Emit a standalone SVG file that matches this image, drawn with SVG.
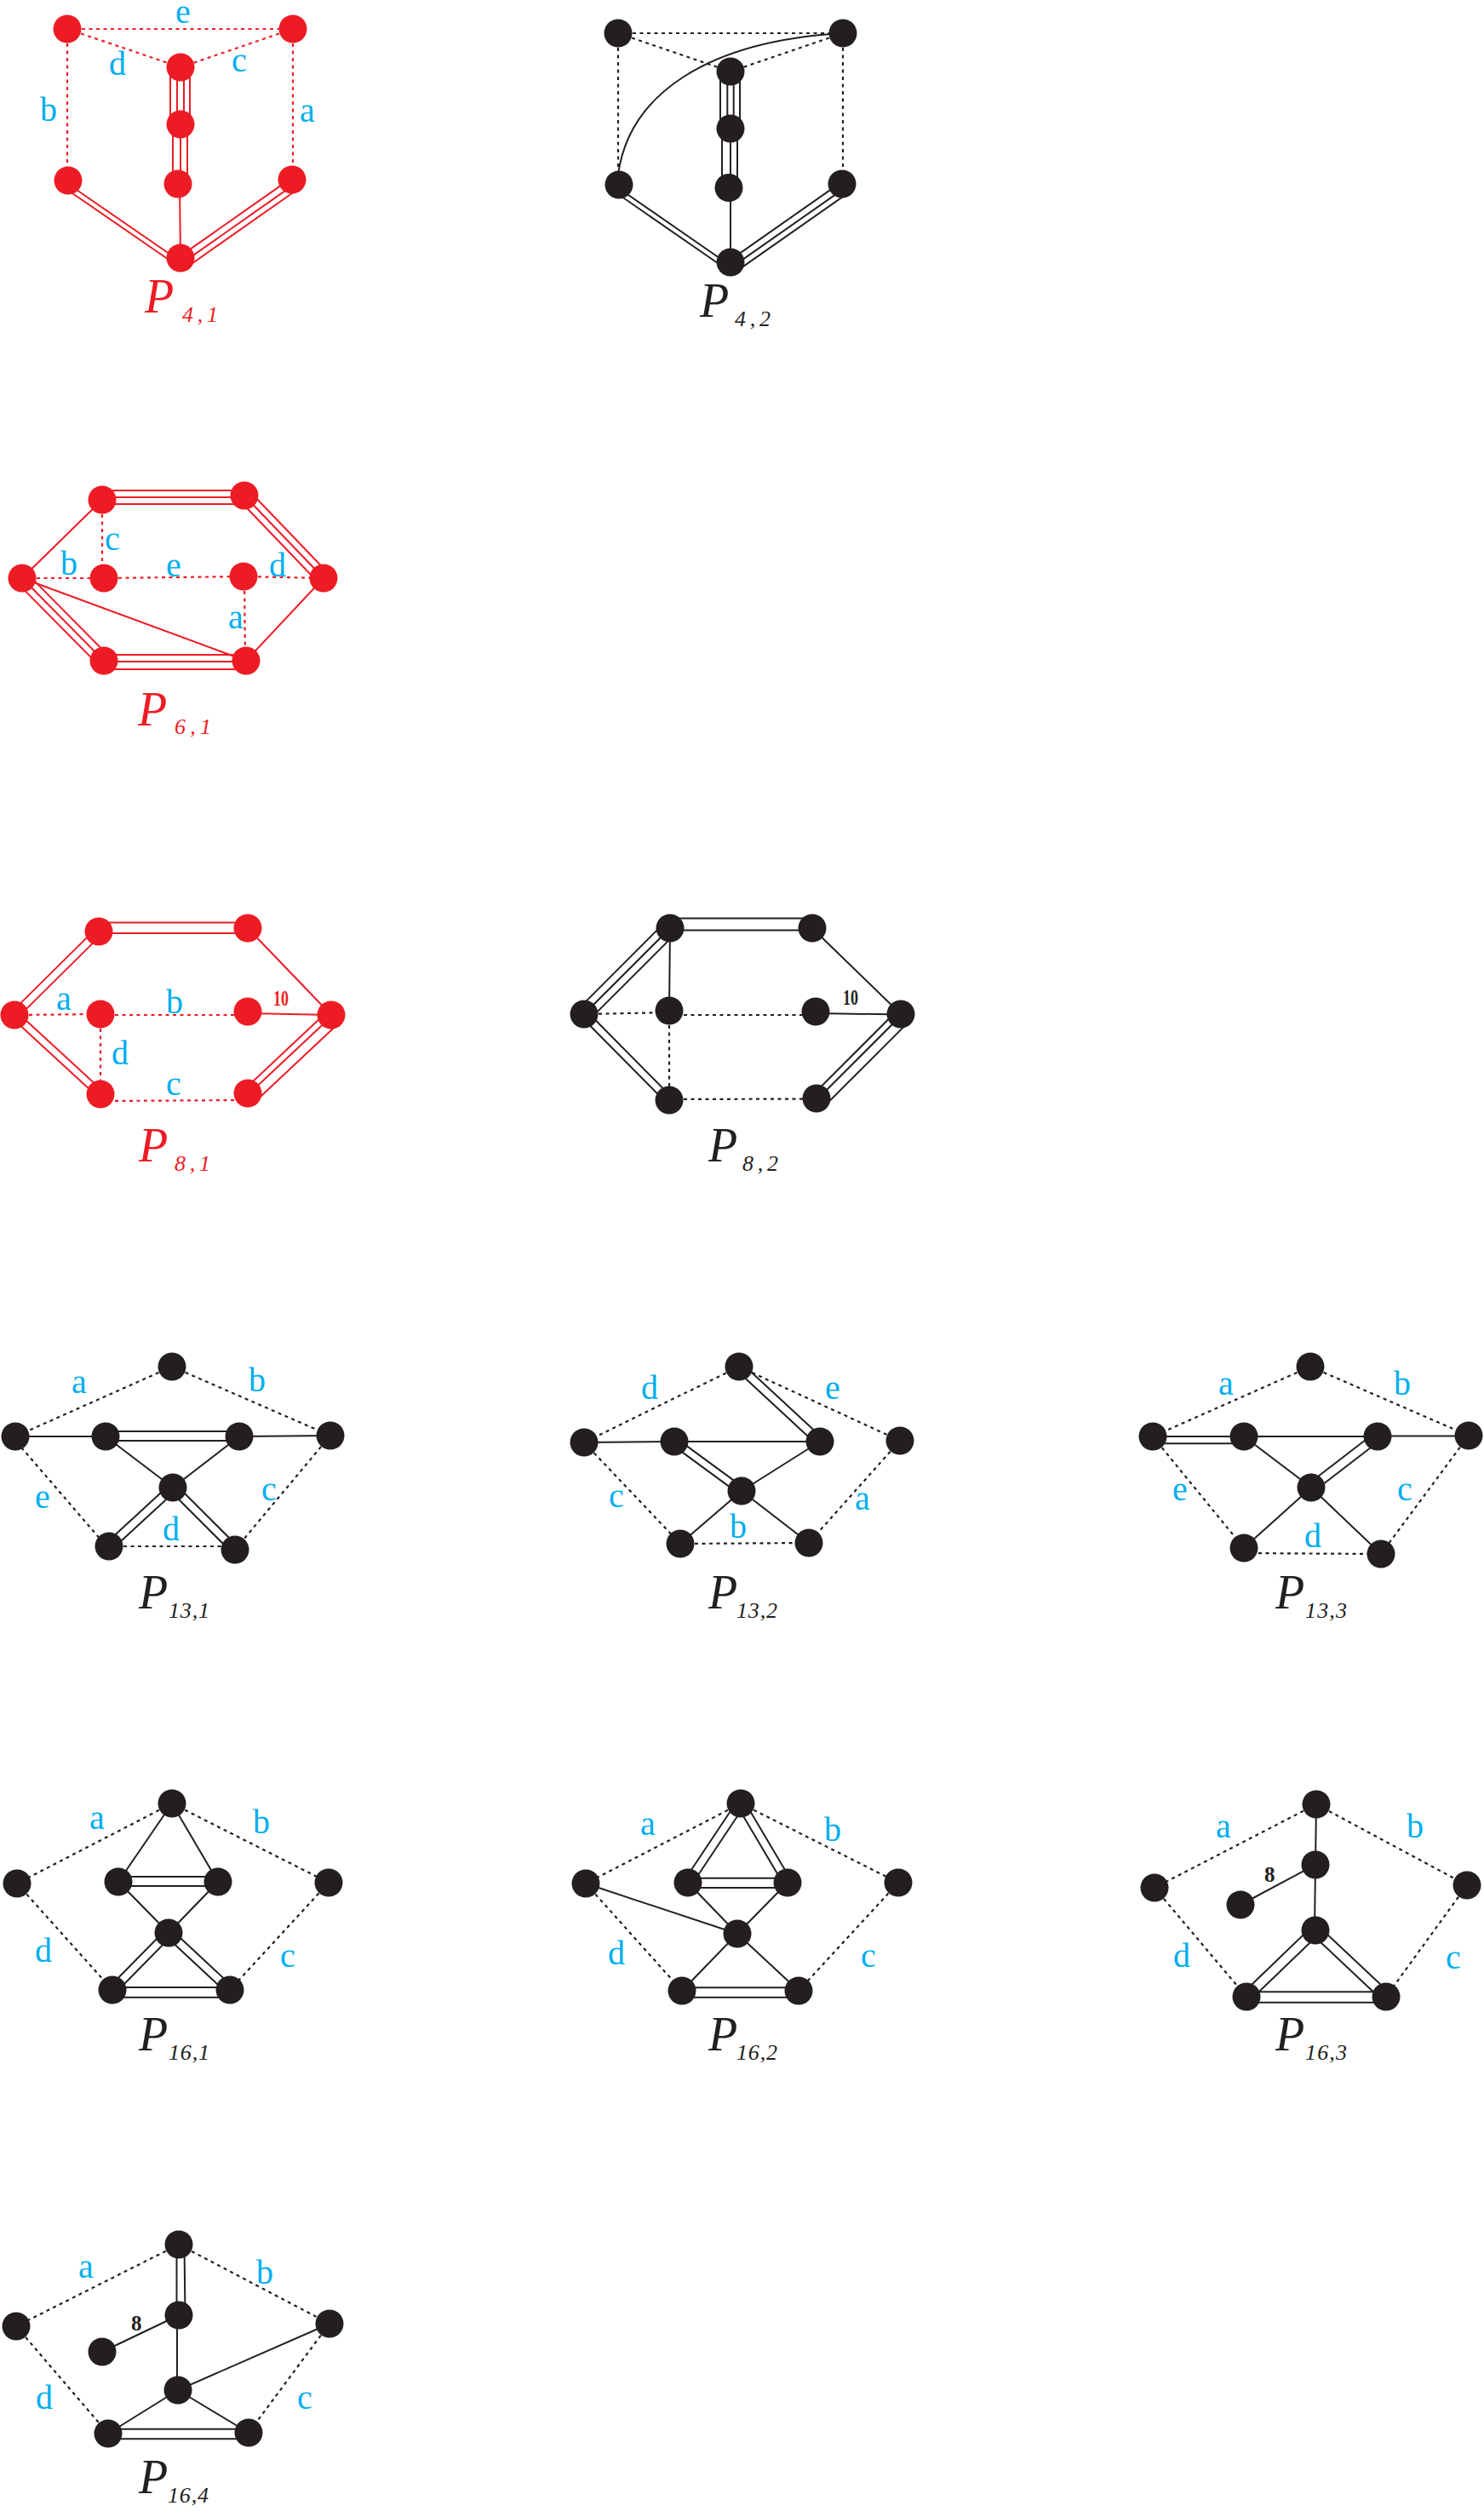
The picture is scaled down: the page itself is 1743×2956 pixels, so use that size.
<svg xmlns="http://www.w3.org/2000/svg" width="1743" height="2956" viewBox="0 0 1743 2956">
<style>
.red{stroke:#ED1C24;fill:#ED1C24}
.blk{stroke:#231F20;fill:#231F20}
.c line,.c path{fill:none;stroke-width:2}
.c .o{stroke-width:2.2;stroke-dasharray:4 4.5}
circle{stroke:none}
text{font-family:"Liberation Serif","Times New Roman",serif;stroke:none}
.l{fill:#00AEEF;font-size:40px;text-anchor:middle}
.P{font-style:italic;font-size:56px}
.s{font-style:italic;font-size:26px}
.w{font-size:25px;font-weight:bold}
</style>
<rect width="1743" height="2956" fill="#fff"/>

<g id="P4-1" class="red">
<g id="P4-1-connectors" class="c">
<line class="o" x1="79" y1="34" x2="344" y2="34"/><line class="o" x1="79" y1="34" x2="212" y2="79"/><line class="o" x1="344" y1="34" x2="212" y2="79"/>
<line class="o" x1="79" y1="34" x2="79" y2="212"/><line class="o" x1="344" y1="34" x2="344" y2="211"/>
<line x1="200" y1="79" x2="200" y2="146"/><line x1="208" y1="79" x2="208" y2="146"/><line x1="216" y1="79" x2="216" y2="146"/><line x1="223" y1="79" x2="223" y2="146"/>
<line x1="203" y1="146" x2="203" y2="216"/><line x1="212" y1="146" x2="212" y2="216"/><line x1="220" y1="146" x2="220" y2="216"/>
<line x1="78.1" y1="214.8" x2="210.1" y2="305.8"/><line x1="74.6" y1="219.8" x2="206.6" y2="310.8"/>
<line x1="341.9" y1="209.4" x2="210.9" y2="301.4"/><line x1="346.5" y1="215.9" x2="215.5" y2="307.9"/><line x1="350.5" y1="221.7" x2="219.5" y2="313.7"/>
<line x1="211" y1="216" x2="212" y2="303"/>
</g>
<g id="P4-1-n1"><circle cx="79" cy="34" r="16.5"/></g>
<g id="P4-1-n2"><circle cx="344" cy="34" r="16.5"/></g>
<g id="P4-1-n3"><circle cx="212" cy="79" r="16.5"/></g>
<g id="P4-1-n4"><circle cx="212" cy="146" r="16.5"/></g>
<g id="P4-1-n5"><circle cx="209" cy="216" r="16.5"/></g>
<g id="P4-1-n6"><circle cx="80" cy="212" r="16.5"/></g>
<g id="P4-1-n7"><circle cx="343" cy="211" r="16.5"/></g>
<g id="P4-1-n8"><circle cx="212" cy="303" r="16.5"/></g>
<text class="l" x="215" y="27">e</text><text class="l" x="138" y="88">d</text><text class="l" x="281" y="84">c</text><text class="l" x="57" y="142">b</text><text class="l" x="361" y="143">a</text>
<text class="P" x="170" y="367">P</text><text class="s" x="214" y="378" textLength="42">4,1</text>
</g>

<g id="P4-2" class="blk">
<g id="P4-2-connectors" class="c">
<line class="o" x1="726" y1="39" x2="990" y2="39"/><line class="o" x1="726" y1="39" x2="858" y2="84"/><line class="o" x1="990" y1="39" x2="858" y2="84"/>
<line class="o" x1="726" y1="39" x2="726" y2="217"/><line class="o" x1="990" y1="39" x2="990" y2="216"/>
<path d="M726 205C739 110 832 48 990 39"/>
<line x1="846" y1="84" x2="846" y2="151"/><line x1="854.3" y1="84" x2="854.3" y2="151"/><line x1="861.7" y1="84" x2="861.7" y2="151"/><line x1="869" y1="84" x2="869" y2="151"/>
<line x1="848" y1="151" x2="848" y2="220"/><line x1="858" y1="151" x2="858" y2="220"/><line x1="866" y1="151" x2="866" y2="220"/>
<line x1="724.8" y1="219.8" x2="855.8" y2="310.5"/><line x1="721.3" y1="224.8" x2="852.3" y2="315.5"/>
<line x1="987.9" y1="214.1" x2="856.6" y2="306.1"/><line x1="992.5" y1="220.6" x2="861.2" y2="312.6"/><line x1="996.5" y1="226.4" x2="865.2" y2="318.4"/>
<line x1="858" y1="220" x2="858" y2="308"/>
</g>
<g id="P4-2-n1"><circle cx="726" cy="39" r="16.5"/></g>
<g id="P4-2-n2"><circle cx="990" cy="39" r="16.5"/></g>
<g id="P4-2-n3"><circle cx="858" cy="84" r="16.5"/></g>
<g id="P4-2-n4"><circle cx="858" cy="151" r="16.5"/></g>
<g id="P4-2-n5"><circle cx="856" cy="220.5" r="16.5"/></g>
<g id="P4-2-n6"><circle cx="727" cy="217" r="16.5"/></g>
<g id="P4-2-n7"><circle cx="989" cy="216" r="16.5"/></g>
<g id="P4-2-n8"><circle cx="858" cy="308" r="16.5"/></g>
<text class="P" x="822" y="372">P</text><text class="s" x="863" y="383" textLength="42">4,2</text>
</g>

<g id="P6-1" class="red">
<g id="P6-1-connectors" class="c">
<line x1="120" y1="576" x2="287" y2="576"/><line x1="120" y1="584" x2="287" y2="584"/><line x1="120" y1="592" x2="287" y2="592"/>
<line x1="122" y1="769" x2="289" y2="769"/><line x1="122" y1="777" x2="289" y2="777"/><line x1="122" y1="786" x2="289" y2="786"/>
<line x1="292.8" y1="576.5" x2="385.8" y2="673.5"/><line x1="287" y1="582" x2="380" y2="679"/><line x1="281.2" y1="587.5" x2="374.2" y2="684.5"/>
<line x1="31.7" y1="673.4" x2="127.7" y2="770.4"/><line x1="26" y1="679" x2="122" y2="776"/><line x1="20.3" y1="684.6" x2="116.3" y2="781.6"/>
<line x1="120" y1="587" x2="26" y2="679"/><line x1="380" y1="679" x2="289" y2="776"/><line x1="26" y1="679" x2="289" y2="776"/>
<line class="o" x1="120" y1="587" x2="120" y2="679"/>
<line class="o" x1="26" y1="679" x2="122" y2="679"/>
<line class="o" x1="122" y1="679" x2="286" y2="677"/>
<line class="o" x1="286" y1="677" x2="380" y2="679"/>
<line class="o" x1="287" y1="677" x2="288" y2="776"/>
</g>
<g id="P6-1-n1"><circle cx="120" cy="587" r="16.5"/></g>
<g id="P6-1-n2"><circle cx="287" cy="582" r="16.5"/></g>
<g id="P6-1-n3"><circle cx="26" cy="679" r="16.5"/></g>
<g id="P6-1-n4"><circle cx="122" cy="679" r="16.5"/></g>
<g id="P6-1-n5"><circle cx="286" cy="677" r="16.5"/></g>
<g id="P6-1-n6"><circle cx="380" cy="679" r="16.5"/></g>
<g id="P6-1-n7"><circle cx="122" cy="776" r="16.5"/></g>
<g id="P6-1-n8"><circle cx="289" cy="776" r="16.5"/></g>
<text class="l" x="81" y="675">b</text><text class="l" x="132" y="646">c</text><text class="l" x="204" y="677">e</text><text class="l" x="326" y="677">d</text><text class="l" x="277" y="738">a</text>
<text class="P" x="162" y="852">P</text><text class="s" x="205" y="862" textLength="43">6,1</text>
</g>

<g id="P8-1" class="red">
<g id="P8-1-connectors" class="c">
<line x1="116" y1="1083.5" x2="291" y2="1083.5"/><line x1="116" y1="1096" x2="291" y2="1096"/>
<line x1="112.6" y1="1090.6" x2="13.6" y2="1188.6"/><line x1="119.4" y1="1097.4" x2="20.4" y2="1195.4"/>
<line x1="20.1" y1="1188.7" x2="121.1" y2="1281.7"/><line x1="13.9" y1="1195.3" x2="114.9" y2="1288.3"/>
<line x1="384.9" y1="1187.6" x2="286.9" y2="1279.6"/><line x1="390" y1="1193" x2="292" y2="1285"/><line x1="398" y1="1201.5" x2="300" y2="1293.5"/>
<line x1="291" y1="1090" x2="389" y2="1192"/><line x1="291" y1="1190" x2="389" y2="1192"/>
<line class="o" x1="17" y1="1192" x2="118" y2="1191"/><line class="o" x1="118" y1="1192" x2="291" y2="1192"/>
<line class="o" x1="118" y1="1293" x2="291" y2="1292"/><line class="o" x1="118" y1="1191" x2="118" y2="1285"/>
</g>
<g id="P8-1-n1"><circle cx="116" cy="1094" r="16.5"/></g>
<g id="P8-1-n2"><circle cx="291" cy="1090" r="16.5"/></g>
<g id="P8-1-n3"><circle cx="17" cy="1192" r="16.5"/></g>
<g id="P8-1-n4"><circle cx="118" cy="1191" r="16.5"/></g>
<g id="P8-1-n5"><circle cx="291" cy="1188" r="16.5"/></g>
<g id="P8-1-n6"><circle cx="389" cy="1192" r="16.5"/></g>
<g id="P8-1-n7"><circle cx="118" cy="1285" r="16.5"/></g>
<g id="P8-1-n8"><circle cx="291" cy="1284" r="16.5"/></g>
<text class="l" x="75" y="1186">a</text><text class="l" x="205" y="1190">b</text><text class="l" x="204" y="1286">c</text><text class="l" x="141" y="1250">d</text>
<text class="w" x="321" y="1181" textLength="18" lengthAdjust="spacingAndGlyphs">10</text>
<text class="P" x="163" y="1364">P</text><text class="s" x="205" y="1375" textLength="42">8,1</text>
</g>

<g id="P8-2" class="blk">
<g id="P8-2-connectors" class="c">
<line x1="787" y1="1078.5" x2="954" y2="1078.5"/><line x1="787" y1="1092.5" x2="954" y2="1092.5"/>
<line x1="780.6" y1="1083.6" x2="679.6" y2="1184.6"/><line x1="787" y1="1090" x2="686" y2="1191"/><line x1="793.4" y1="1096.4" x2="692.4" y2="1197.4"/>
<line x1="689.2" y1="1187.8" x2="789.2" y2="1288.8"/><line x1="682.8" y1="1194.2" x2="782.8" y2="1295.2"/>
<line x1="1053.7" y1="1186.8" x2="954.7" y2="1285.8"/><line x1="1059" y1="1192" x2="960" y2="1291"/><line x1="1067.2" y1="1200.1" x2="968.2" y2="1299.1"/>
<line x1="787" y1="1090" x2="786" y2="1187"/><line x1="954" y1="1090" x2="1058" y2="1191"/><line x1="958" y1="1190" x2="1058" y2="1191.5"/>
<line class="o" x1="686" y1="1191" x2="786" y2="1189"/><line class="o" x1="786" y1="1192" x2="958" y2="1192"/>
<line class="o" x1="786" y1="1291" x2="959" y2="1290.5"/><line class="o" x1="786" y1="1187" x2="786" y2="1292"/>
</g>
<g id="P8-2-n1"><circle cx="787" cy="1090" r="16.5"/></g>
<g id="P8-2-n2"><circle cx="954" cy="1090" r="16.5"/></g>
<g id="P8-2-n3"><circle cx="686" cy="1191" r="16.5"/></g>
<g id="P8-2-n4"><circle cx="786" cy="1187" r="16.5"/></g>
<g id="P8-2-n5"><circle cx="958" cy="1188" r="16.5"/></g>
<g id="P8-2-n6"><circle cx="1058" cy="1191" r="16.5"/></g>
<g id="P8-2-n7"><circle cx="786" cy="1292" r="16.5"/></g>
<g id="P8-2-n8"><circle cx="959" cy="1290" r="16.5"/></g>
<text class="w" x="990" y="1180" textLength="18" lengthAdjust="spacingAndGlyphs">10</text>
<text class="P" x="832" y="1364">P</text><text class="s" x="872" y="1375" textLength="42">8,2</text>
</g>

<g id="P13-1" class="blk">
<g id="P13-1-connectors" class="c">
<line class="o" x1="202" y1="1605" x2="18" y2="1687"/><line class="o" x1="202" y1="1605" x2="388" y2="1686"/>
<line x1="18" y1="1687" x2="124" y2="1687"/><line x1="281" y1="1687" x2="388" y2="1686"/>
<line x1="124" y1="1681" x2="281" y2="1681"/><line x1="124" y1="1692" x2="281" y2="1692"/>
<line x1="124" y1="1687" x2="203" y2="1747"/><line x1="281" y1="1687" x2="203" y2="1747"/>
<line x1="206.4" y1="1750.7" x2="131.4" y2="1819.7"/><line x1="199.6" y1="1743.3" x2="124.6" y2="1812.3"/>
<line x1="199.5" y1="1750.5" x2="272.5" y2="1823.5"/><line x1="206.5" y1="1743.5" x2="279.5" y2="1816.5"/>
<line class="o" x1="128" y1="1816" x2="276" y2="1816"/>
<line class="o" x1="14" y1="1687" x2="125" y2="1816"/><line class="o" x1="388" y1="1686" x2="276" y2="1820"/>
</g>
<g id="P13-1-n1"><circle cx="202" cy="1605" r="16.5"/></g>
<g id="P13-1-n2"><circle cx="18" cy="1687" r="16.5"/></g>
<g id="P13-1-n3"><circle cx="124" cy="1687" r="16.5"/></g>
<g id="P13-1-n4"><circle cx="281" cy="1687" r="16.5"/></g>
<g id="P13-1-n5"><circle cx="388" cy="1686" r="16.5"/></g>
<g id="P13-1-n6"><circle cx="203" cy="1747" r="16.5"/></g>
<g id="P13-1-n7"><circle cx="128" cy="1816" r="16.5"/></g>
<g id="P13-1-n8"><circle cx="276" cy="1820" r="16.5"/></g>
<text class="l" x="93" y="1636">a</text><text class="l" x="302" y="1634">b</text><text class="l" x="50" y="1771">e</text><text class="l" x="316" y="1762">c</text><text class="l" x="201" y="1809">d</text>
<text class="P" x="163" y="1889">P</text><text class="s" x="198" y="1900" textLength="48">13,1</text>
</g>

<g id="P13-2" class="blk">
<g id="P13-2-connectors" class="c">
<line class="o" x1="868" y1="1605" x2="686" y2="1694"/><line class="o" x1="868" y1="1605" x2="1057" y2="1692"/>
<line x1="686" y1="1694" x2="792" y2="1693"/><line x1="792" y1="1693" x2="963" y2="1693"/>
<line x1="789.3" y1="1696.6" x2="868.3" y2="1754.6"/><line x1="794.7" y1="1689.4" x2="873.7" y2="1747.4"/>
<line x1="963" y1="1693" x2="871" y2="1751"/>
<line x1="864.6" y1="1608.7" x2="959.6" y2="1696.7"/><line x1="871.4" y1="1601.3" x2="966.4" y2="1689.3"/>
<line x1="871" y1="1751" x2="799" y2="1813"/><line x1="871" y1="1751" x2="950" y2="1812"/>
<line class="o" x1="799" y1="1813" x2="950" y2="1812"/>
<line class="o" x1="686" y1="1694" x2="799" y2="1813"/><line class="o" x1="1057" y1="1692" x2="950" y2="1812"/>
</g>
<g id="P13-2-n1"><circle cx="868" cy="1605" r="16.5"/></g>
<g id="P13-2-n2"><circle cx="686" cy="1694" r="16.5"/></g>
<g id="P13-2-n3"><circle cx="792" cy="1693" r="16.5"/></g>
<g id="P13-2-n4"><circle cx="963" cy="1693" r="16.5"/></g>
<g id="P13-2-n5"><circle cx="1057" cy="1692" r="16.5"/></g>
<g id="P13-2-n6"><circle cx="871" cy="1751" r="16.5"/></g>
<g id="P13-2-n7"><circle cx="799" cy="1813" r="16.5"/></g>
<g id="P13-2-n8"><circle cx="950" cy="1812" r="16.5"/></g>
<text class="l" x="763" y="1643">d</text><text class="l" x="978" y="1643">e</text><text class="l" x="724" y="1770">c</text><text class="l" x="1013" y="1773">a</text><text class="l" x="867" y="1806">b</text>
<text class="P" x="832" y="1889">P</text><text class="s" x="865" y="1900" textLength="48">13,2</text>
</g>

<g id="P13-3" class="blk">
<g id="P13-3-connectors" class="c">
<line class="o" x1="1539" y1="1605" x2="1354" y2="1687"/><line class="o" x1="1539" y1="1605" x2="1725" y2="1686"/>
<line x1="1354" y1="1687" x2="1461" y2="1687"/><line x1="1354" y1="1695.3" x2="1461" y2="1695.3"/>
<line x1="1461" y1="1687" x2="1618" y2="1687"/><line x1="1618" y1="1686.5" x2="1725" y2="1686.5"/>
<line x1="1461" y1="1687" x2="1540" y2="1747"/>
<line x1="1621.4" y1="1691.3" x2="1543.4" y2="1751.3"/><line x1="1614.6" y1="1682.7" x2="1536.6" y2="1742.7"/>
<line x1="1540" y1="1747" x2="1461" y2="1818"/><line x1="1540" y1="1747" x2="1622" y2="1825"/>
<line class="o" x1="1461" y1="1824" x2="1622" y2="1825"/>
<line class="o" x1="1354" y1="1687" x2="1461" y2="1818"/><line class="o" x1="1725" y1="1686" x2="1622" y2="1825"/>
</g>
<g id="P13-3-n1"><circle cx="1539" cy="1605" r="16.5"/></g>
<g id="P13-3-n2"><circle cx="1354" cy="1687" r="16.5"/></g>
<g id="P13-3-n3"><circle cx="1461" cy="1687" r="16.5"/></g>
<g id="P13-3-n4"><circle cx="1618" cy="1687" r="16.5"/></g>
<g id="P13-3-n5"><circle cx="1725" cy="1686" r="16.5"/></g>
<g id="P13-3-n6"><circle cx="1540" cy="1747" r="16.5"/></g>
<g id="P13-3-n7"><circle cx="1461" cy="1818" r="16.5"/></g>
<g id="P13-3-n8"><circle cx="1622" cy="1825" r="16.5"/></g>
<text class="l" x="1440" y="1638">a</text><text class="l" x="1647" y="1638">b</text><text class="l" x="1386" y="1762">e</text><text class="l" x="1650" y="1762">c</text><text class="l" x="1542" y="1817">d</text>
<text class="P" x="1498" y="1889">P</text><text class="s" x="1533" y="1900" textLength="49">13,3</text>
</g>

<g id="P16-1" class="blk">
<g id="P16-1-connectors" class="c">
<line class="o" x1="202" y1="2118" x2="20" y2="2212"/><line class="o" x1="202" y1="2118" x2="386" y2="2211"/>
<line x1="202" y1="2118" x2="139" y2="2210"/><line x1="202" y1="2118" x2="256" y2="2210"/>
<line x1="139" y1="2204" x2="256" y2="2204"/><line x1="139" y1="2215" x2="256" y2="2215"/>
<line x1="139" y1="2210" x2="198" y2="2270"/><line x1="256" y1="2210" x2="198" y2="2270"/>
<line x1="201.6" y1="2273.5" x2="135.6" y2="2340.5"/><line x1="194.4" y1="2266.5" x2="128.4" y2="2333.5"/>
<line x1="194.6" y1="2273.7" x2="266.6" y2="2340.7"/><line x1="201.4" y1="2266.3" x2="273.4" y2="2333.3"/>
<line x1="132" y1="2334" x2="270" y2="2334"/><line x1="132" y1="2345.7" x2="270" y2="2345.7"/>
<line class="o" x1="20" y1="2212" x2="132" y2="2337"/><line class="o" x1="386" y1="2211" x2="270" y2="2337"/>
</g>
<g id="P16-1-n1"><circle cx="202" cy="2118" r="16.5"/></g>
<g id="P16-1-n2"><circle cx="20" cy="2212" r="16.5"/></g>
<g id="P16-1-n3"><circle cx="139" cy="2210" r="16.5"/></g>
<g id="P16-1-n4"><circle cx="256" cy="2210" r="16.5"/></g>
<g id="P16-1-n5"><circle cx="386" cy="2211" r="16.5"/></g>
<g id="P16-1-n6"><circle cx="198" cy="2270" r="16.5"/></g>
<g id="P16-1-n7"><circle cx="132" cy="2337" r="16.5"/></g>
<g id="P16-1-n8"><circle cx="270" cy="2337" r="16.5"/></g>
<text class="l" x="114" y="2148">a</text><text class="l" x="307" y="2153">b</text><text class="l" x="51" y="2304">d</text><text class="l" x="338" y="2310">c</text>
<text class="P" x="163" y="2408">P</text><text class="s" x="198" y="2419" textLength="48">16,1</text>
</g>

<g id="P16-2" class="blk">
<g id="P16-2-connectors" class="c">
<line class="o" x1="870" y1="2118" x2="688" y2="2212"/><line class="o" x1="870" y1="2118" x2="1055" y2="2211"/>
<line x1="874.2" y1="2120.8" x2="812.2" y2="2213.8"/><line x1="865.8" y1="2115.2" x2="803.8" y2="2208.2"/>
<line x1="865.7" y1="2120.5" x2="920.7" y2="2213.5"/><line x1="874.3" y1="2115.5" x2="929.3" y2="2208.5"/>
<line x1="808" y1="2205.7" x2="925" y2="2205.7"/><line x1="808" y1="2217" x2="925" y2="2217"/>
<line x1="808" y1="2211" x2="866" y2="2271"/><line x1="925" y1="2211" x2="866" y2="2271"/>
<line x1="688" y1="2212" x2="866" y2="2271"/>
<line x1="866" y1="2271" x2="801" y2="2338"/><line x1="866" y1="2271" x2="938" y2="2338"/>
<line x1="801" y1="2334.3" x2="938" y2="2334.3"/><line x1="801" y1="2345.7" x2="938" y2="2345.7"/>
<line class="o" x1="688" y1="2212" x2="801" y2="2338"/><line class="o" x1="1055" y1="2211" x2="938" y2="2338"/>
</g>
<g id="P16-2-n1"><circle cx="870" cy="2118" r="16.5"/></g>
<g id="P16-2-n2"><circle cx="688" cy="2212" r="16.5"/></g>
<g id="P16-2-n3"><circle cx="808" cy="2211" r="16.5"/></g>
<g id="P16-2-n4"><circle cx="925" cy="2211" r="16.5"/></g>
<g id="P16-2-n5"><circle cx="1055" cy="2211" r="16.5"/></g>
<g id="P16-2-n6"><circle cx="866" cy="2271" r="16.5"/></g>
<g id="P16-2-n7"><circle cx="801" cy="2338" r="16.5"/></g>
<g id="P16-2-n8"><circle cx="938" cy="2338" r="16.5"/></g>
<text class="l" x="761" y="2155">a</text><text class="l" x="978" y="2162">b</text><text class="l" x="724" y="2307">d</text><text class="l" x="1020" y="2310">c</text>
<text class="P" x="832" y="2408">P</text><text class="s" x="865" y="2419" textLength="48">16,2</text>
</g>

<g id="P16-3" class="blk">
<g id="P16-3-connectors" class="c">
<line class="o" x1="1546" y1="2119" x2="1356" y2="2217"/><line class="o" x1="1546" y1="2119" x2="1723" y2="2214"/>
<line x1="1546" y1="2119" x2="1545" y2="2190"/><line x1="1545" y1="2190" x2="1457" y2="2237"/><line x1="1545" y1="2190" x2="1544" y2="2267"/>
<line x1="1549.2" y1="2271.3" x2="1468.2" y2="2349.3"/><line x1="1540.8" y1="2262.7" x2="1459.8" y2="2340.7"/>
<line x1="1540.9" y1="2271.4" x2="1623.9" y2="2349.4"/><line x1="1549.1" y1="2262.6" x2="1632.1" y2="2340.6"/>
<line x1="1464" y1="2339.3" x2="1628" y2="2339.3"/><line x1="1464" y1="2351.7" x2="1628" y2="2351.7"/>
<line class="o" x1="1356" y1="2217" x2="1464" y2="2345"/><line class="o" x1="1723" y1="2214" x2="1628" y2="2345"/>
</g>
<g id="P16-3-n1"><circle cx="1546" cy="2119" r="16.5"/></g>
<g id="P16-3-n2"><circle cx="1545" cy="2190" r="16.5"/></g>
<g id="P16-3-n3"><circle cx="1457" cy="2237" r="16.5"/></g>
<g id="P16-3-n4"><circle cx="1545" cy="2267" r="16.5"/></g>
<g id="P16-3-n5"><circle cx="1356" cy="2217" r="16.5"/></g>
<g id="P16-3-n6"><circle cx="1723" cy="2214" r="16.5"/></g>
<g id="P16-3-n7"><circle cx="1464" cy="2345" r="16.5"/></g>
<g id="P16-3-n8"><circle cx="1628" cy="2345" r="16.5"/></g>
<text class="l" x="1437" y="2158">a</text><text class="l" x="1662" y="2158">b</text><text class="l" x="1388" y="2310">d</text><text class="l" x="1707" y="2312">c</text>
<text class="w" x="1485" y="2210">8</text>
<text class="P" x="1498" y="2408">P</text><text class="s" x="1533" y="2419" textLength="49">16,3</text>
</g>

<g id="P16-4" class="blk">
<g id="P16-4-connectors" class="c">
<line class="o" x1="210" y1="2636" x2="19" y2="2732"/><line class="o" x1="210" y1="2636" x2="387" y2="2729"/>
<line x1="207.5" y1="2636" x2="207.5" y2="2719"/><line x1="216.5" y1="2636" x2="217.5" y2="2719"/>
<line x1="210" y1="2719" x2="120" y2="2762"/><line x1="208" y1="2719" x2="208" y2="2807"/>
<line x1="209" y1="2807" x2="387" y2="2729"/><line x1="209" y1="2807" x2="127" y2="2858"/><line x1="209" y1="2807" x2="292" y2="2857"/>
<line x1="127" y1="2852.7" x2="292" y2="2852.7"/><line x1="127" y1="2864.3" x2="292" y2="2864.3"/>
<line class="o" x1="19" y1="2732" x2="127" y2="2858"/><line class="o" x1="387" y1="2729" x2="292" y2="2857"/>
</g>
<g id="P16-4-n1"><circle cx="210" cy="2636" r="16.5"/></g>
<g id="P16-4-n2"><circle cx="210" cy="2719" r="16.5"/></g>
<g id="P16-4-n3"><circle cx="120" cy="2762" r="16.5"/></g>
<g id="P16-4-n4"><circle cx="209" cy="2807" r="16.5"/></g>
<g id="P16-4-n5"><circle cx="19" cy="2732" r="16.5"/></g>
<g id="P16-4-n6"><circle cx="387" cy="2729" r="16.5"/></g>
<g id="P16-4-n7"><circle cx="127" cy="2858" r="16.5"/></g>
<g id="P16-4-n8"><circle cx="292" cy="2857" r="16.5"/></g>
<text class="l" x="101" y="2675">a</text><text class="l" x="311" y="2682">b</text><text class="l" x="52" y="2829">d</text><text class="l" x="358" y="2829">c</text>
<text class="w" x="154" y="2737">8</text>
<text class="P" x="163" y="2928">P</text><text class="s" x="197" y="2939" textLength="48">16,4</text>
</g>
</svg>
